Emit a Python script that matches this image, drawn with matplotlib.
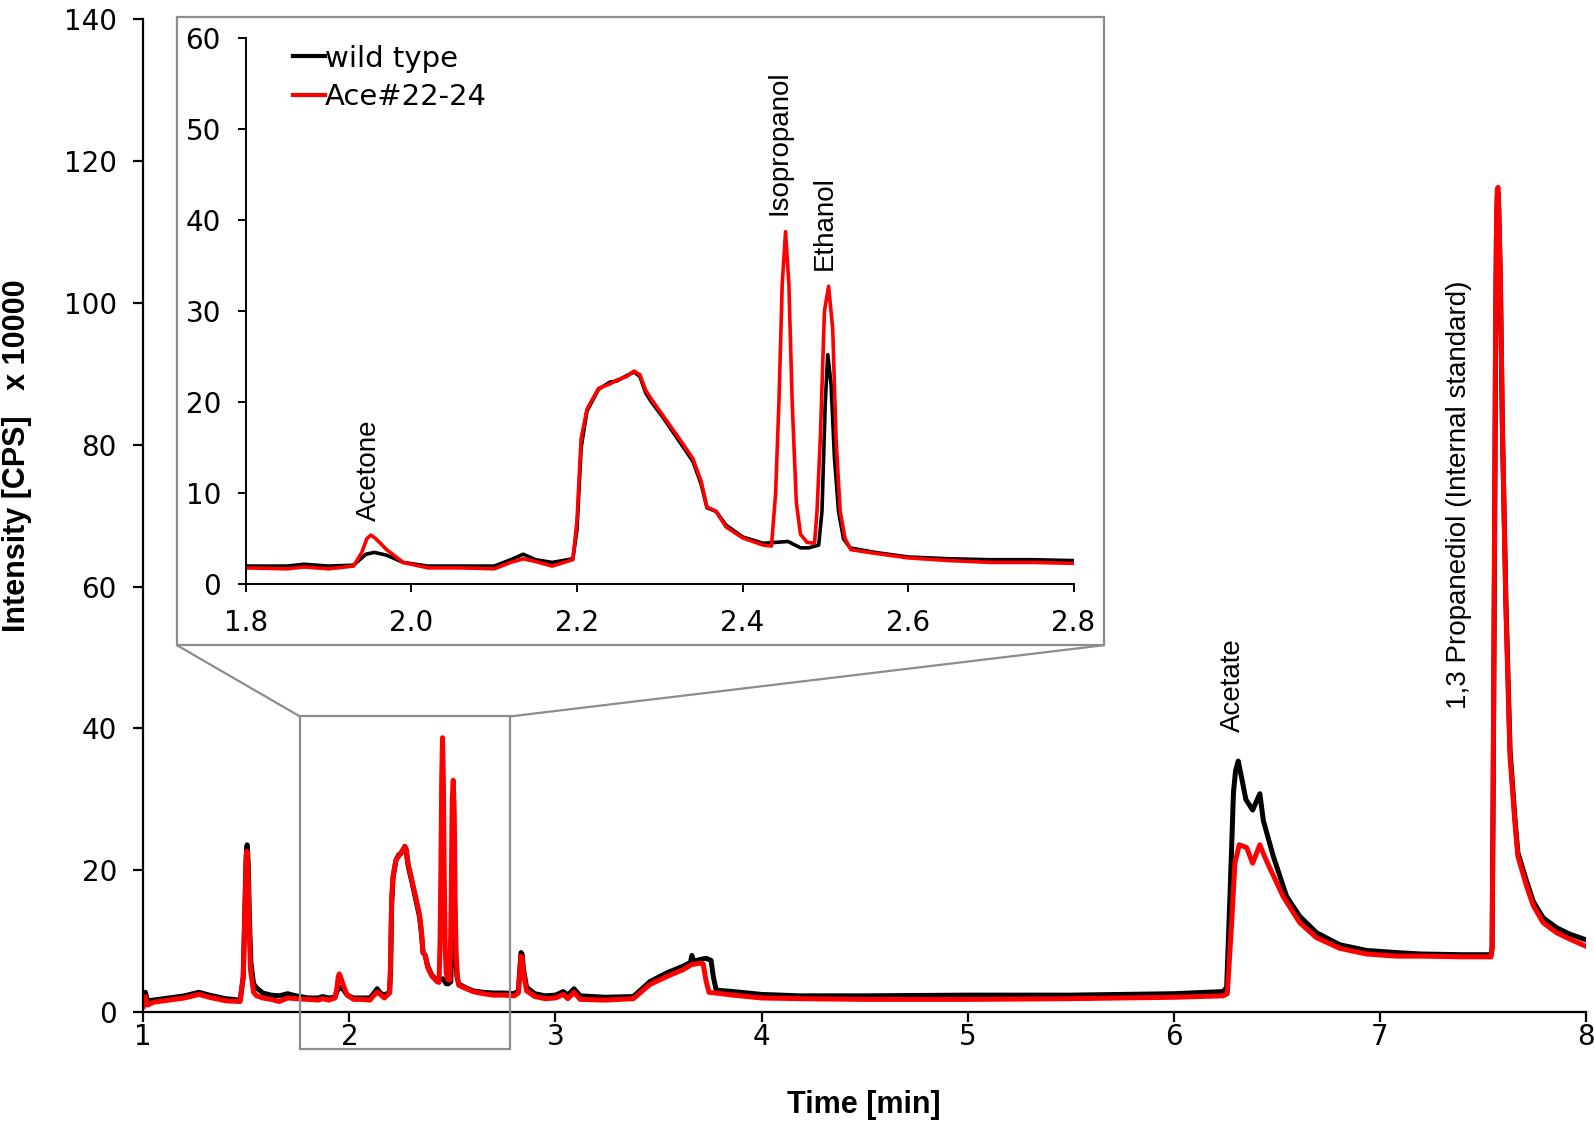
import matplotlib
matplotlib.use("Agg")
import matplotlib.pyplot as plt
from matplotlib.patches import Rectangle, ConnectionPatch
from matplotlib.lines import Line2D

# GC-MS chromatogram, intensity x 10000 CPS vs retention time (min)
t_wt = [1.00, 1.01, 1.02, 1.05, 1.10, 1.15, 1.20, 1.27, 1.32, 1.40, 1.47,
        1.485, 1.493, 1.499, 1.504, 1.509, 1.515, 1.522, 1.535, 1.55, 1.58,
        1.62, 1.66, 1.70, 1.74, 1.80, 1.85, 1.87, 1.90, 1.93, 1.945, 1.955,
        1.97, 1.99, 2.02, 2.06, 2.10, 2.12, 2.135, 2.15, 2.17, 2.195, 2.200,
        2.205, 2.212, 2.226, 2.24, 2.248, 2.26, 2.269, 2.276, 2.283, 2.29,
        2.304, 2.325, 2.34, 2.35, 2.357, 2.368, 2.38, 2.40, 2.425, 2.44,
        2.455, 2.47, 2.48, 2.492, 2.496, 2.500, 2.503, 2.507, 2.511, 2.516,
        2.522, 2.53, 2.56, 2.60, 2.65, 2.70, 2.75, 2.80, 2.82, 2.828,
        2.833, 2.838, 2.845, 2.86, 2.90, 2.95, 3.00, 3.038, 3.06, 3.09, 3.12,
        3.24, 3.378, 3.458, 3.538, 3.62, 3.655, 3.662, 3.67, 3.70, 3.73,
        3.755, 3.766, 3.78, 3.863, 4.0, 4.186, 4.5, 5.0, 5.5, 6.0, 6.24,
        6.257, 6.275, 6.29, 6.30, 6.313, 6.33, 6.35, 6.383, 6.418, 6.435,
        6.483, 6.548, 6.612, 6.693, 6.806, 6.936, 7.08, 7.2, 7.4, 7.54,
        7.545, 7.55, 7.556, 7.562, 7.566, 7.570, 7.574, 7.578, 7.585, 7.595,
        7.612, 7.632, 7.655, 7.67, 7.712, 7.745, 7.793, 7.858, 7.922, 8.0]
i_wt = [1.2, 2.8, 1.6, 1.7, 1.9, 2.1, 2.3, 2.8, 2.4, 1.9, 1.7,
        5.0, 15.0, 22.0, 23.6, 21.0, 13.0, 7.0, 4.0, 3.4, 2.7,
        2.4, 2.3, 2.6, 2.3, 2.0, 2.0, 2.2, 2.0, 2.1, 3.3, 3.5,
        3.2, 2.4, 2.0, 2.0, 2.0, 2.7, 3.3, 2.7, 2.4, 2.8, 6.0,
        15.0, 19.0, 21.4, 22.2, 22.3, 22.9, 23.3, 22.8, 21.0, 20.0,
        18.3, 15.5, 13.5, 11.0, 8.4, 8.0, 6.5, 5.2, 4.5, 4.6,
        4.7, 4.0, 4.0, 4.3, 8.0, 20.0, 25.2, 22.0, 14.0, 8.0,
        5.0, 4.0, 3.5, 3.0, 2.8, 2.7, 2.7, 2.6, 3.0, 6.5,
        8.4, 8.2, 6.0, 3.5, 2.6, 2.3, 2.4, 2.9, 2.4, 3.3, 2.3,
        2.1, 2.2, 4.3, 5.5, 6.5, 7.0, 8.0, 7.2, 7.4, 7.6,
        7.3, 5.0, 3.1, 2.9, 2.5, 2.3, 2.3, 2.4, 2.4, 2.6, 2.9,
        3.5, 18.0, 31.0, 34.0, 35.4, 33.0, 30.0, 28.5, 30.8, 27.0,
        22.0, 16.3, 13.5, 11.2, 9.5, 8.7, 8.4, 8.2, 8.1, 8.1,
        9.0, 30.0, 60.0, 95.0, 109.0, 115.0, 115.5, 112.0, 103.0, 82.0,
        58.0, 37.0, 27.6, 22.5, 18.5, 15.6, 13.3, 11.9, 11.0, 10.2]

t_ace = [1.00, 1.01, 1.02, 1.05, 1.10, 1.15, 1.20, 1.27, 1.32, 1.40, 1.47,
         1.485, 1.493, 1.499, 1.503, 1.508, 1.514, 1.52, 1.535, 1.55, 1.58,
         1.62, 1.66, 1.70, 1.74, 1.80, 1.85, 1.87, 1.90, 1.93, 1.94, 1.946,
         1.951, 1.957, 1.97, 1.99, 2.02, 2.06, 2.10, 2.12, 2.135, 2.15, 2.17,
         2.195, 2.200, 2.205, 2.212, 2.226, 2.24, 2.248, 2.26, 2.269, 2.276,
         2.283, 2.29, 2.304, 2.325, 2.34, 2.35, 2.357, 2.368, 2.38, 2.40,
         2.425, 2.435, 2.440, 2.444, 2.448, 2.452, 2.456, 2.460, 2.465, 2.470,
         2.478, 2.487, 2.490, 2.494, 2.499, 2.504, 2.509, 2.513, 2.518, 2.524,
         2.531, 2.56, 2.60, 2.65, 2.70, 2.75, 2.80, 2.82, 2.828,
         2.833, 2.838, 2.845, 2.86, 2.90, 2.95, 3.00, 3.038, 3.06, 3.09, 3.12,
         3.24, 3.378, 3.458, 3.538, 3.62, 3.66, 3.70, 3.717, 3.73, 3.745,
         3.863, 4.0, 4.186, 4.5, 5.0, 5.5, 6.0, 6.24, 6.26, 6.28, 6.297,
         6.318, 6.354, 6.383, 6.418, 6.44, 6.47, 6.531, 6.612, 6.693, 6.806,
         6.936, 7.08, 7.2, 7.4, 7.54, 7.545, 7.55, 7.556, 7.562, 7.566,
         7.570, 7.574, 7.578, 7.585, 7.595, 7.612, 7.632, 7.655, 7.67,
         7.712, 7.745, 7.793, 7.858, 7.922, 8.0]
i_ace = [0.8, 2.2, 1.0, 1.4, 1.6, 1.8, 2.0, 2.5, 2.1, 1.6, 1.5,
         5.0, 14.0, 21.0, 22.7, 20.0, 12.0, 6.0, 2.8, 2.3, 2.0,
         1.8, 1.5, 2.0, 1.9, 1.8, 1.7, 1.9, 1.7, 2.0, 3.5, 5.0,
         5.4, 5.0, 3.8, 2.4, 1.8, 1.8, 1.7, 2.4, 2.8, 2.5, 2.0,
         2.7, 7.0, 16.0, 19.2, 21.5, 22.0, 22.4, 22.8, 23.4, 23.0,
         21.3, 20.3, 18.5, 15.8, 13.8, 11.3, 8.5, 8.0, 6.3, 5.1,
         4.3, 4.2, 10.0, 20.0, 33.0, 38.7, 33.0, 20.0, 9.0, 5.5,
         4.6, 4.5, 8.0, 16.0, 30.0, 32.7, 28.0, 16.0, 8.0, 5.0,
         3.8, 3.4, 2.9, 2.6, 2.4, 2.4, 2.3, 2.7, 6.0,
         7.9, 7.7, 5.5, 3.0, 2.2, 1.9, 2.0, 2.5, 1.9, 2.8, 1.8,
         1.7, 1.9, 3.9, 5.0, 6.0, 6.7, 6.9, 6.8, 4.5, 2.8,
         2.4, 2.0, 1.9, 1.8, 1.8, 1.9, 2.1, 2.3, 2.6, 12.0, 21.0,
         23.6, 23.2, 21.0, 23.6, 22.0, 20.1, 16.3, 12.6, 10.5, 9.0,
         8.2, 7.9, 7.9, 7.8, 7.8, 9.0, 32.0, 63.0, 97.0, 110.0,
         116.0, 116.3, 113.0, 104.0, 83.0, 57.0, 36.0, 27.0, 22.0,
         17.8, 15.0, 12.6, 11.2, 10.3, 9.3]

main_xticks = [1, 2, 3, 4, 5, 6, 7, 8]
main_yticks = [0, 20, 40, 60, 80, 100, 120, 140]
inset_xticks = [1.8, 2.0, 2.2, 2.4, 2.6, 2.8]
inset_yticks = [0, 10, 20, 30, 40, 50, 60]

inset_peaks = [("Acetone", 1.949, 7.0), ("Isopropanol", 2.445, 40.5),
               ("Ethanol", 2.499, 34.5)]
main_peaks = [("Acetate", 6.289, 39.5),
              ("1,3 Propanediol (Internal standard)", 7.384, 42.8)]

gray = "#8c8c8c"

fig = plt.figure(figsize=(15.94, 11.28), dpi=100)

# main chromatogram
ax = fig.add_axes([0.0899, 0.1027, 0.905, 0.8802])
ax.plot(t_wt, i_wt, color="black", lw=3.6)
ax.plot(t_ace, i_ace, color="red", lw=3.6)
ax.set_xlim(1, 8)
ax.set_ylim(0, 140)
ax.set_xticks(main_xticks)
ax.set_yticks(main_yticks)
for s in ["top", "right"]:
    ax.spines[s].set_visible(False)
for s in ["left", "bottom"]:
    ax.spines[s].set_linewidth(1.6)
ax.tick_params(axis="both", direction="out", length=7, width=1.6, labelsize=20)
ax.tick_params(axis="y", pad=12)
ax.tick_params(axis="x", pad=1)
ax.set_xlabel("Time [min]", fontsize=22, fontweight="bold", family="Liberation Sans")
ax.xaxis.set_label_coords(0.4993, -0.078)
ax.set_ylabel("Intensity [CPS]   x 10000", fontsize=22, fontweight="bold",
              family="Liberation Sans")
ax.yaxis.set_label_coords(-0.0775, 0.56)
for name, x, y in main_peaks:
    ax.text(x, y, name, rotation=90, ha="center", va="bottom",
            fontsize=20, family="Liberation Sans")

# zoom region marker
ax.add_patch(Rectangle((1.76, -5.2), 1.02, 46.9, fill=False, edgecolor=gray,
                       lw=1.6, clip_on=False, zorder=5))

# frame behind the inset
fig.add_artist(Rectangle((0.111, 0.428), 0.5816, 0.5567, transform=fig.transFigure,
                         facecolor="white", edgecolor=gray, lw=1.6, zorder=1))
for xf, xd in [(0.111, 1.76), (0.6926, 2.78)]:
    fig.add_artist(ConnectionPatch(xyA=(xf, 0.428), coordsA=fig.transFigure,
                                   xyB=(xd, 41.7), coordsB=ax.transData,
                                   color=gray, lw=1.6, zorder=1))

# inset
axi = fig.add_axes([0.1543, 0.482, 0.5192, 0.4847], zorder=2)
axi.patch.set_alpha(0)
axi.plot(t_wt, i_wt, color="black", lw=2.6)
axi.plot(t_ace, i_ace, color="red", lw=2.6)
axi.set_xlim(1.8, 2.8)
axi.set_ylim(0, 60)
axi.set_xticks(inset_xticks)
axi.set_xticklabels([f"{v:.1f}" for v in inset_xticks])
axi.set_yticks(inset_yticks)
for s in ["top", "right"]:
    axi.spines[s].set_visible(False)
for s in ["left", "bottom"]:
    axi.spines[s].set_linewidth(1.4)
axi.tick_params(axis="both", direction="out", length=6, width=1.4, labelsize=20)
axi.tick_params(axis="y", pad=12)
axi.tick_params(axis="x", pad=12)
for name, x, y in inset_peaks:
    axi.text(x, y, name, rotation=90, ha="center", va="bottom",
             fontsize=20, family="Liberation Sans")

handles = [Line2D([], [], color="black", lw=3), Line2D([], [], color="red", lw=3)]
axi.legend(handles, ["wild type", "Ace#22-24"], loc="upper left",
           bbox_to_anchor=(0.025, 1.035), frameon=False, handlelength=1.1,
           handletextpad=0.0, labelspacing=0.35, prop={"size": 21})

fig.savefig("out.png", dpi=100)
